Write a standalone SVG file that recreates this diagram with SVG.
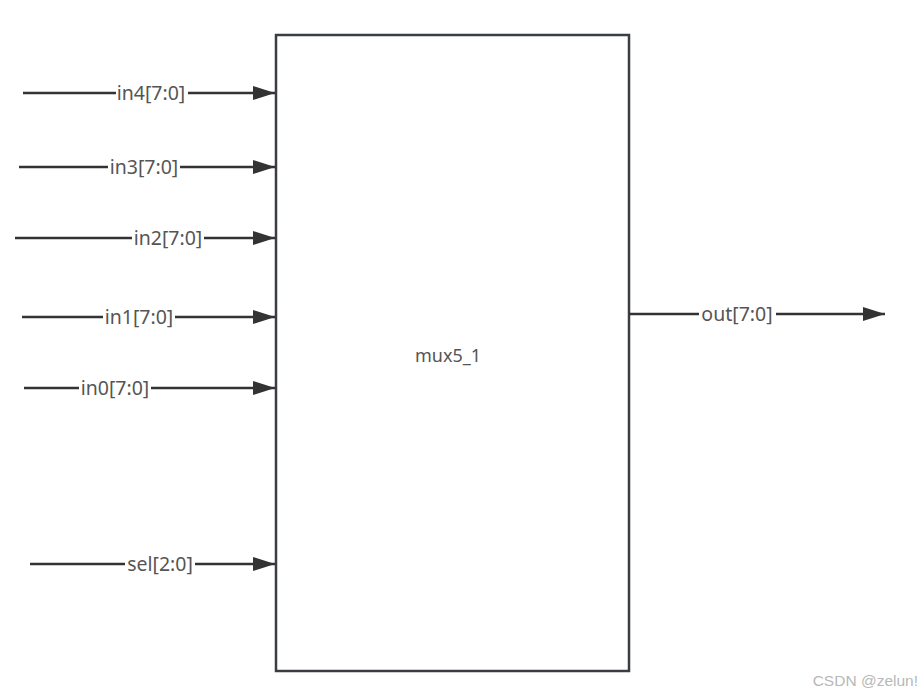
<svg xmlns="http://www.w3.org/2000/svg" width="923" height="696" viewBox="0 0 923 696">
<style>
.w{stroke:#333;stroke-width:2.5;fill:none;marker-end:url(#ah)}
.lb{font-family:"Noto Sans","Open Sans",sans-serif;font-size:19.5px;fill:#555;text-anchor:middle}
.bg{fill:#fff}
</style>
<defs>
<marker id="ah" markerWidth="22" markerHeight="14" refX="22" refY="7" orient="auto" markerUnits="userSpaceOnUse">
<path d="M0,0 L22,7 L0,14 Z" fill="#333"/>
</marker>
</defs>
<rect width="923" height="696" fill="#fff"/>
<g id="mux5_1">
<rect x="276" y="35" width="353" height="636" fill="#fff" stroke="#3a3d42" stroke-width="2.5"/>
<text class="lb" x="448" y="362" style="font-size:18px">mux5_1</text>
</g>
<g id="connectors">
<g id="e-in4"><line class="w" x1="23" y1="93" x2="275" y2="93"/><rect class="bg" x="116" y="82" width="72" height="22"/><text class="lb" x="151" y="100">in4[7:0]</text></g>
<g id="e-in3"><line class="w" x1="19" y1="167" x2="275" y2="167"/><rect class="bg" x="108" y="156" width="72" height="22"/><text class="lb" x="144" y="174">in3[7:0]</text></g>
<g id="e-in2"><line class="w" x1="15" y1="238" x2="275" y2="238"/><rect class="bg" x="132" y="227" width="72" height="22"/><text class="lb" x="168" y="245">in2[7:0]</text></g>
<g id="e-in1"><line class="w" x1="22" y1="317" x2="275" y2="317"/><rect class="bg" x="103" y="306" width="72" height="22"/><text class="lb" x="139" y="324">in1[7:0]</text></g>
<g id="e-in0"><line class="w" x1="24" y1="388" x2="275" y2="388"/><rect class="bg" x="79" y="377" width="72" height="22"/><text class="lb" x="115" y="395">in0[7:0]</text></g>
<g id="e-sel"><line class="w" x1="30" y1="564" x2="275" y2="564"/><rect class="bg" x="125" y="553" width="70" height="22"/><text class="lb" x="160" y="571">sel[2:0]</text></g>
<g id="e-out"><line class="w" x1="629" y1="314" x2="885" y2="314"/><rect class="bg" x="699" y="303" width="77" height="22"/><text class="lb" x="737" y="321">out[7:0]</text></g>
</g>
<text x="918" y="686" font-family="Liberation Sans, Arial, sans-serif" font-size="15.5" fill="#b8b8b8" text-anchor="end">CSDN @zelun!</text>
</svg>
